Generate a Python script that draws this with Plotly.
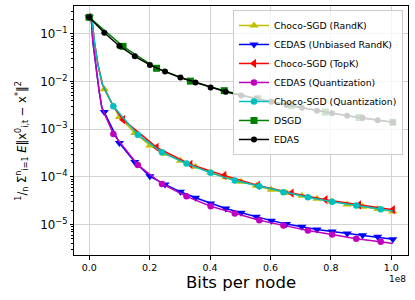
import plotly.graph_objects as go
import numpy as np

# ---- data (x in units of 1e8 bits per node, y as log10 of the error) ----
X21 = [0, 0.050, 0.100, 0.151, 0.201, 0.251, 0.302, 0.352, 0.402, 0.452, 0.503,
       0.553, 0.603, 0.653, 0.704, 0.754, 0.804, 0.854, 0.905, 0.955, 1.005]
X13 = [0, 0.080, 0.161, 0.241, 0.322, 0.402, 0.482, 0.563, 0.643, 0.724, 0.804, 0.884, 0.965]
X10 = [0, 0.112, 0.223, 0.335, 0.447, 0.558, 0.670, 0.782, 0.893, 1.005]

choco_randk_log = [-0.65, -2.158, -2.745, -3.08, -3.34, -3.513, -3.66, -3.79, -3.91, -4.01, -4.106,
                   -4.19, -4.27, -4.34, -4.40, -4.46, -4.52, -4.58, -4.63, -4.675, -4.73]
choco_randk_extra_x = [0.009, 0.017, 0.029, 0.044]
choco_randk_extra_log = [-0.67, -1.153, -1.643, -2.06]

cedas_unb_log = [-0.65, -2.64, -3.29, -3.69, -3.99, -4.16, -4.315, -4.44, -4.56, -4.665, -4.755,
                 -4.84, -4.92, -4.99, -5.05, -5.105, -5.15, -5.19, -5.225, -5.26, -5.31]
cedas_unb_extra_x = [0.007, 0.012, 0.018, 0.026, 0.033, 0.042]
cedas_unb_extra_log = [-0.68, -1.153, -1.50, -1.852, -2.20, -2.55]

choco_topk_log = [-0.65, -2.80, -3.38, -3.74, -3.97, -4.18, -4.34, -4.48, -4.59, -4.69]
choco_topk_extra_x = [0.009, 0.017, 0.029, 0.044, 0.080]
choco_topk_extra_log = [-0.67, -1.153, -1.643, -2.06, -2.52]

cedas_q_log = [-0.65, -3.10, -3.75, -4.15, -4.41, -4.617, -4.77, -4.91, -5.02, -5.126, -5.21, -5.30, -5.365]
cedas_q_extra_x = [0.007, 0.012, 0.018, 0.026, 0.033, 0.042, 1.005]
cedas_q_extra_log = [-0.68, -1.153, -1.50, -1.852, -2.20, -2.55, -5.40]

choco_q_log = [-0.65, -2.52, -3.115, -3.486, -3.72, -3.917, -4.079, -4.198, -4.323, -4.428, -4.525, -4.602, -4.68]
choco_q_extra_x = [0.009, 0.017, 0.029, 0.044, 1.005]
choco_q_extra_log = [-0.67, -1.153, -1.643, -2.06, -4.72]

dsgd_log = [-0.65, -1.26, -1.72, -1.99, -2.19, -2.36, -2.50, -2.64, -2.755, -2.855]

edas_log = [-0.65, -0.973, -1.251, -1.47, -1.65, -1.79, -1.915, -2.02, -2.125, -2.215, -2.29,
            -2.36, -2.425, -2.49, -2.55, -2.61, -2.665, -2.715, -2.765, -2.81, -2.855]

series = [
    ("Choco-SGD (RandK)", "#bfbf00", "triangle-up", 8, X21, choco_randk_log, choco_randk_extra_x, choco_randk_extra_log),
    ("CEDAS (Unbiased RandK)", "#0000ff", "triangle-down", 8, X21, cedas_unb_log, cedas_unb_extra_x, cedas_unb_extra_log),
    ("Choco-SGD (TopK)", "#ff0000", "triangle-left", 8, X10, choco_topk_log, choco_topk_extra_x, choco_topk_extra_log),
    ("CEDAS (Quantization)", "#bf00bf", "circle", 6.5, X13, cedas_q_log, cedas_q_extra_x, cedas_q_extra_log),
    ("Choco-SGD (Quantization)", "#00bfbf", "circle", 6.5, X13, choco_q_log, choco_q_extra_x, choco_q_extra_log),
    ("DSGD", "#008000", "square", 7, X10, dsgd_log, [], []),
    ("EDAS", "#000000", "circle", 6, X21, edas_log, [], []),
]

fig = go.Figure()
for name, color, symbol, msize, mx, mlog, ex, elog in series:
    pts = sorted(list(zip(mx, mlog)) + list(zip(ex, elog)))
    lx = [p[0] for p in pts]
    ly = [10 ** p[1] for p in pts]
    fig.add_trace(go.Scatter(x=lx, y=ly, mode="lines", line=dict(color=color, width=1.5),
                             showlegend=False, hoverinfo="skip", legendgroup=name))
    fig.add_trace(go.Scatter(x=mx, y=[10 ** v for v in mlog], mode="markers",
                             marker=dict(color=color, symbol=symbol, size=msize),
                             showlegend=False, legendgroup=name, name=name))
for name, color, symbol, msize, *_ in series:
    fig.add_trace(go.Scatter(x=[None], y=[None], mode="lines+markers", name=name, legendgroup=name,
                             line=dict(color=color, width=1.5),
                             marker=dict(color=color, symbol=symbol, size=msize)))

axis_common = dict(showline=True, linecolor="black", linewidth=1, mirror=True,
                   ticks="outside", ticklen=3.5, tickwidth=1, tickcolor="black",
                   showgrid=True, gridcolor="#d3d3d3", gridwidth=1, zeroline=False,
                   tickfont=dict(size=9.5, color="black"))

fig.update_xaxes(range=[-0.05025, 1.05525], tick0=0, dtick=0.2, tickformat=".1f", **axis_common)
fig.update_yaxes(type="log", range=[-5.642, -0.412], dtick=1, exponentformat="power",
                 minor=dict(ticks="outside", ticklen=2, tickcolor="black", dtick="D1", showgrid=False),
                 **axis_common)

fig.update_layout(
    width=415, height=300,
    margin=dict(l=74, r=7, t=6, b=45),
    plot_bgcolor="white", paper_bgcolor="white",
    font=dict(family="DejaVu Sans", size=9.3, color="black"),
    legend=dict(x=0.985, y=0.984, xanchor="right", yanchor="top",
                bgcolor="rgba(255,255,255,0.8)", bordercolor="#cccccc", borderwidth=1,
                font=dict(size=9.3), tracegroupgap=0, itemwidth=30),
    annotations=[
        dict(text="Bits per node", xref="paper", yref="paper", x=0.5, y=-0.11,
             xanchor="center", yanchor="middle", showarrow=False, font=dict(size=16.5)),
        dict(text="1e8", xref="paper", yref="paper", x=1.0, y=-0.095,
             xanchor="right", yanchor="middle", showarrow=False, font=dict(size=9)),
        dict(text="<sup>1</sup>/<sub>n</sub> \u03a3<sup>n</sup><sub>i=1</sub> <i>E</i>\u2016x<sup>0</sup><sub>i,t</sub> \u2212 x<sup>*</sup>\u2016<sup>2</sup>",
             xref="paper", yref="paper", x=-0.155, y=0.46, textangle=-90,
             xanchor="center", yanchor="middle", showarrow=False, font=dict(size=11.5)),
    ],
)

fig.write_html("out.html", config={"displayModeBar": False},
               post_script="document.body.style.margin='0';")
